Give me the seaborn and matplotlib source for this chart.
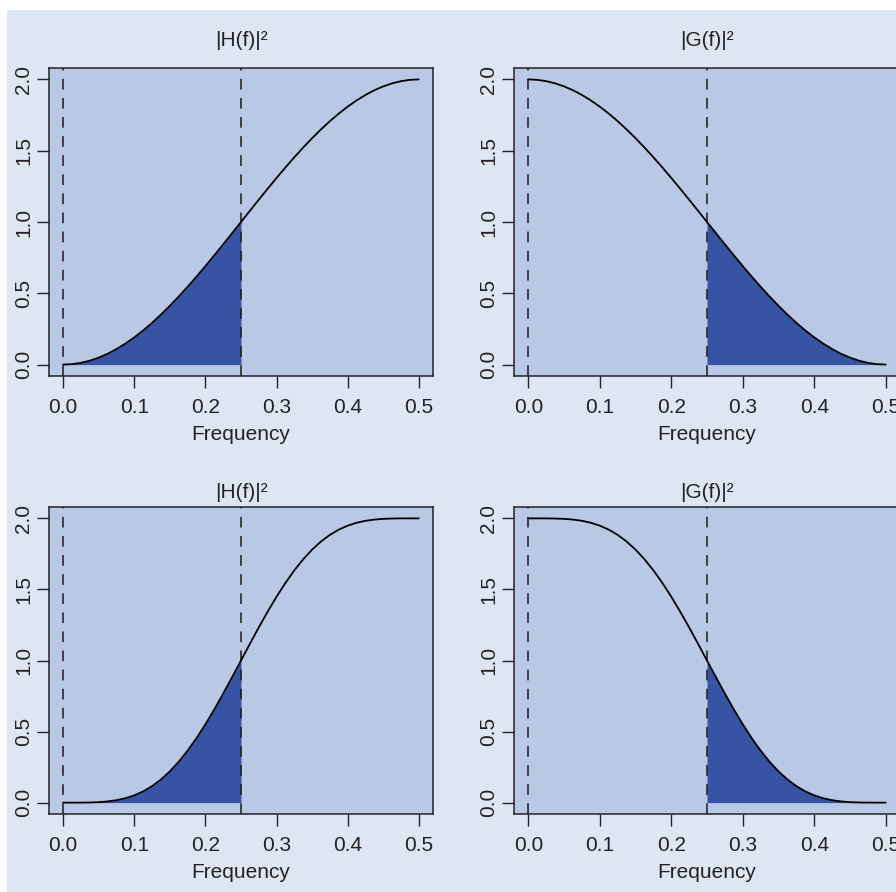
import numpy as np
import pandas as pd
import matplotlib
matplotlib.use("Agg")
import matplotlib.pyplot as plt
import seaborn as sns
from matplotlib.patches import Rectangle

freq = [0.0, 0.0125, 0.025, 0.0375, 0.05, 0.0625, 0.075, 0.0875, 0.1, 0.1125,
        0.125, 0.1375, 0.15, 0.1625, 0.175, 0.1875, 0.2, 0.2125, 0.225, 0.2375,
        0.25, 0.2625, 0.275, 0.2875, 0.3, 0.3125, 0.325, 0.3375, 0.35, 0.3625,
        0.375, 0.3875, 0.4, 0.4125, 0.425, 0.4375, 0.45, 0.4625, 0.475, 0.4875, 0.5]

# top row: Haar wavelet (H) and scaling (G) filters
h_haar = [0.0, 0.0031, 0.0123, 0.0276, 0.0489, 0.0761, 0.1090, 0.1474, 0.1910, 0.2396,
          0.2929, 0.3506, 0.4122, 0.4775, 0.5460, 0.6173, 0.6910, 0.7666, 0.8436, 0.9215,
          1.0, 1.0785, 1.1564, 1.2334, 1.3090, 1.3827, 1.4540, 1.5225, 1.5878, 1.6494,
          1.7071, 1.7604, 1.8090, 1.8526, 1.8910, 1.9239, 1.9511, 1.9724, 1.9877, 1.9969, 2.0]
g_haar = [2.0, 1.9969, 1.9877, 1.9724, 1.9511, 1.9239, 1.8910, 1.8526, 1.8090, 1.7604,
          1.7071, 1.6494, 1.5878, 1.5225, 1.4540, 1.3827, 1.3090, 1.2334, 1.1564, 1.0785,
          1.0, 0.9215, 0.8436, 0.7666, 0.6910, 0.6173, 0.5460, 0.4775, 0.4122, 0.3506,
          0.2929, 0.2396, 0.1910, 0.1474, 0.1090, 0.0761, 0.0489, 0.0276, 0.0123, 0.0031, 0.0]

# bottom row: D(4) wavelet (H) and scaling (G) filters
h_d4 = [0.0, 0.0000, 0.0002, 0.0011, 0.0035, 0.0085, 0.0172, 0.0310, 0.0512, 0.0792,
        0.1161, 0.1628, 0.2199, 0.2876, 0.3658, 0.4540, 0.5512, 0.6562, 0.7673, 0.8826,
        1.0, 1.1174, 1.2327, 1.3438, 1.4488, 1.5460, 1.6342, 1.7124, 1.7801, 1.8372,
        1.8839, 1.9208, 1.9488, 1.9690, 1.9828, 1.9915, 1.9965, 1.9989, 1.9998, 2.0000, 2.0]
g_d4 = [2.0, 2.0000, 1.9998, 1.9989, 1.9965, 1.9915, 1.9828, 1.9690, 1.9488, 1.9208,
        1.8839, 1.8372, 1.7801, 1.7124, 1.6342, 1.5460, 1.4488, 1.3438, 1.2327, 1.1174,
        1.0, 0.8826, 0.7673, 0.6562, 0.5512, 0.4540, 0.3658, 0.2876, 0.2199, 0.1628,
        0.1161, 0.0792, 0.0512, 0.0310, 0.0172, 0.0085, 0.0035, 0.0011, 0.0002, 0.0000, 0.0]

cutoff = 0.25
xticks = [0.0, 0.1, 0.2, 0.3, 0.4, 0.5]
yticks = [0.0, 0.5, 1.0, 1.5, 2.0]

sns.set_style("ticks")
plt.rcParams["font.family"] = ["Liberation Sans", "DejaVu Sans"]

FIG_BG = "#dfe6f3"
AX_BG = "#b9c8e5"
FILL = "#3754a4"
INK = "#222222"

W, H = 896, 892
fig = plt.figure(figsize=(W / 100, H / 100), dpi=100, facecolor="white")
fig.patches.append(Rectangle((7 / W, 0), 1, 1 - 10 / H, transform=fig.transFigure,
                             facecolor=FIG_BG, edgecolor="none", zorder=-10))


def px_rect(l, t, r, b):
    return [l / W, 1 - b / H, (r - l) / W, (b - t) / H]


panels = [
    (px_rect(49, 68, 433, 376), h_haar, "low", "|H(f)|²", 41),
    (px_rect(514, 68, 900, 376), g_haar, "high", "|G(f)|²", 41),
    (px_rect(49, 507, 433, 814), h_d4, "low", "|H(f)|²", 492),
    (px_rect(514, 507, 900, 814), g_d4, "high", "|G(f)|²", 492),
]

for rect, gain, side, title, title_y in panels:
    ax = fig.add_axes(rect)
    ax.set_facecolor(AX_BG)
    df = pd.DataFrame({"Frequency": freq, "gain": gain})

    if side == "low":
        part = df[df["Frequency"] <= cutoff]
    else:
        part = df[df["Frequency"] >= cutoff]
    ax.fill_between(part["Frequency"], 0, part["gain"], color=FILL, lw=0, zorder=1)

    for v in [0.0, cutoff]:
        ax.axvline(v, color="#1a1a1a", lw=1.1, dashes=(7, 5.5), zorder=2)

    sns.lineplot(data=df, x="Frequency", y="gain", color="black", lw=1.3, ax=ax, zorder=3)

    ax.set_xlim(-0.02, 0.52)
    ax.set_ylim(-0.08, 2.08)
    ax.set_xticks(xticks)
    ax.set_xticklabels([f"{t:.1f}" for t in xticks])
    ax.set_yticks(yticks)
    ax.set_yticklabels([f"{t:.1f}" for t in yticks], rotation=90, va="center")
    ax.tick_params(length=8.5, width=1, color=INK, labelsize=15, labelcolor=INK)
    ax.tick_params(axis="x", pad=7)
    ax.tick_params(axis="y", pad=3)
    ax.set_xlabel("Frequency", fontsize=15, color=INK, labelpad=6)
    ax.set_ylabel("")
    for s in ax.spines.values():
        s.set_visible(True)
        s.set_linewidth(1.1)
        s.set_color(INK)

    cx = rect[0] + rect[2] / 2
    fig.text(cx, 1 - title_y / H, title, ha="center", va="center", fontsize=15, color=INK)

fig.savefig("out.png", dpi=100, facecolor=fig.get_facecolor())
